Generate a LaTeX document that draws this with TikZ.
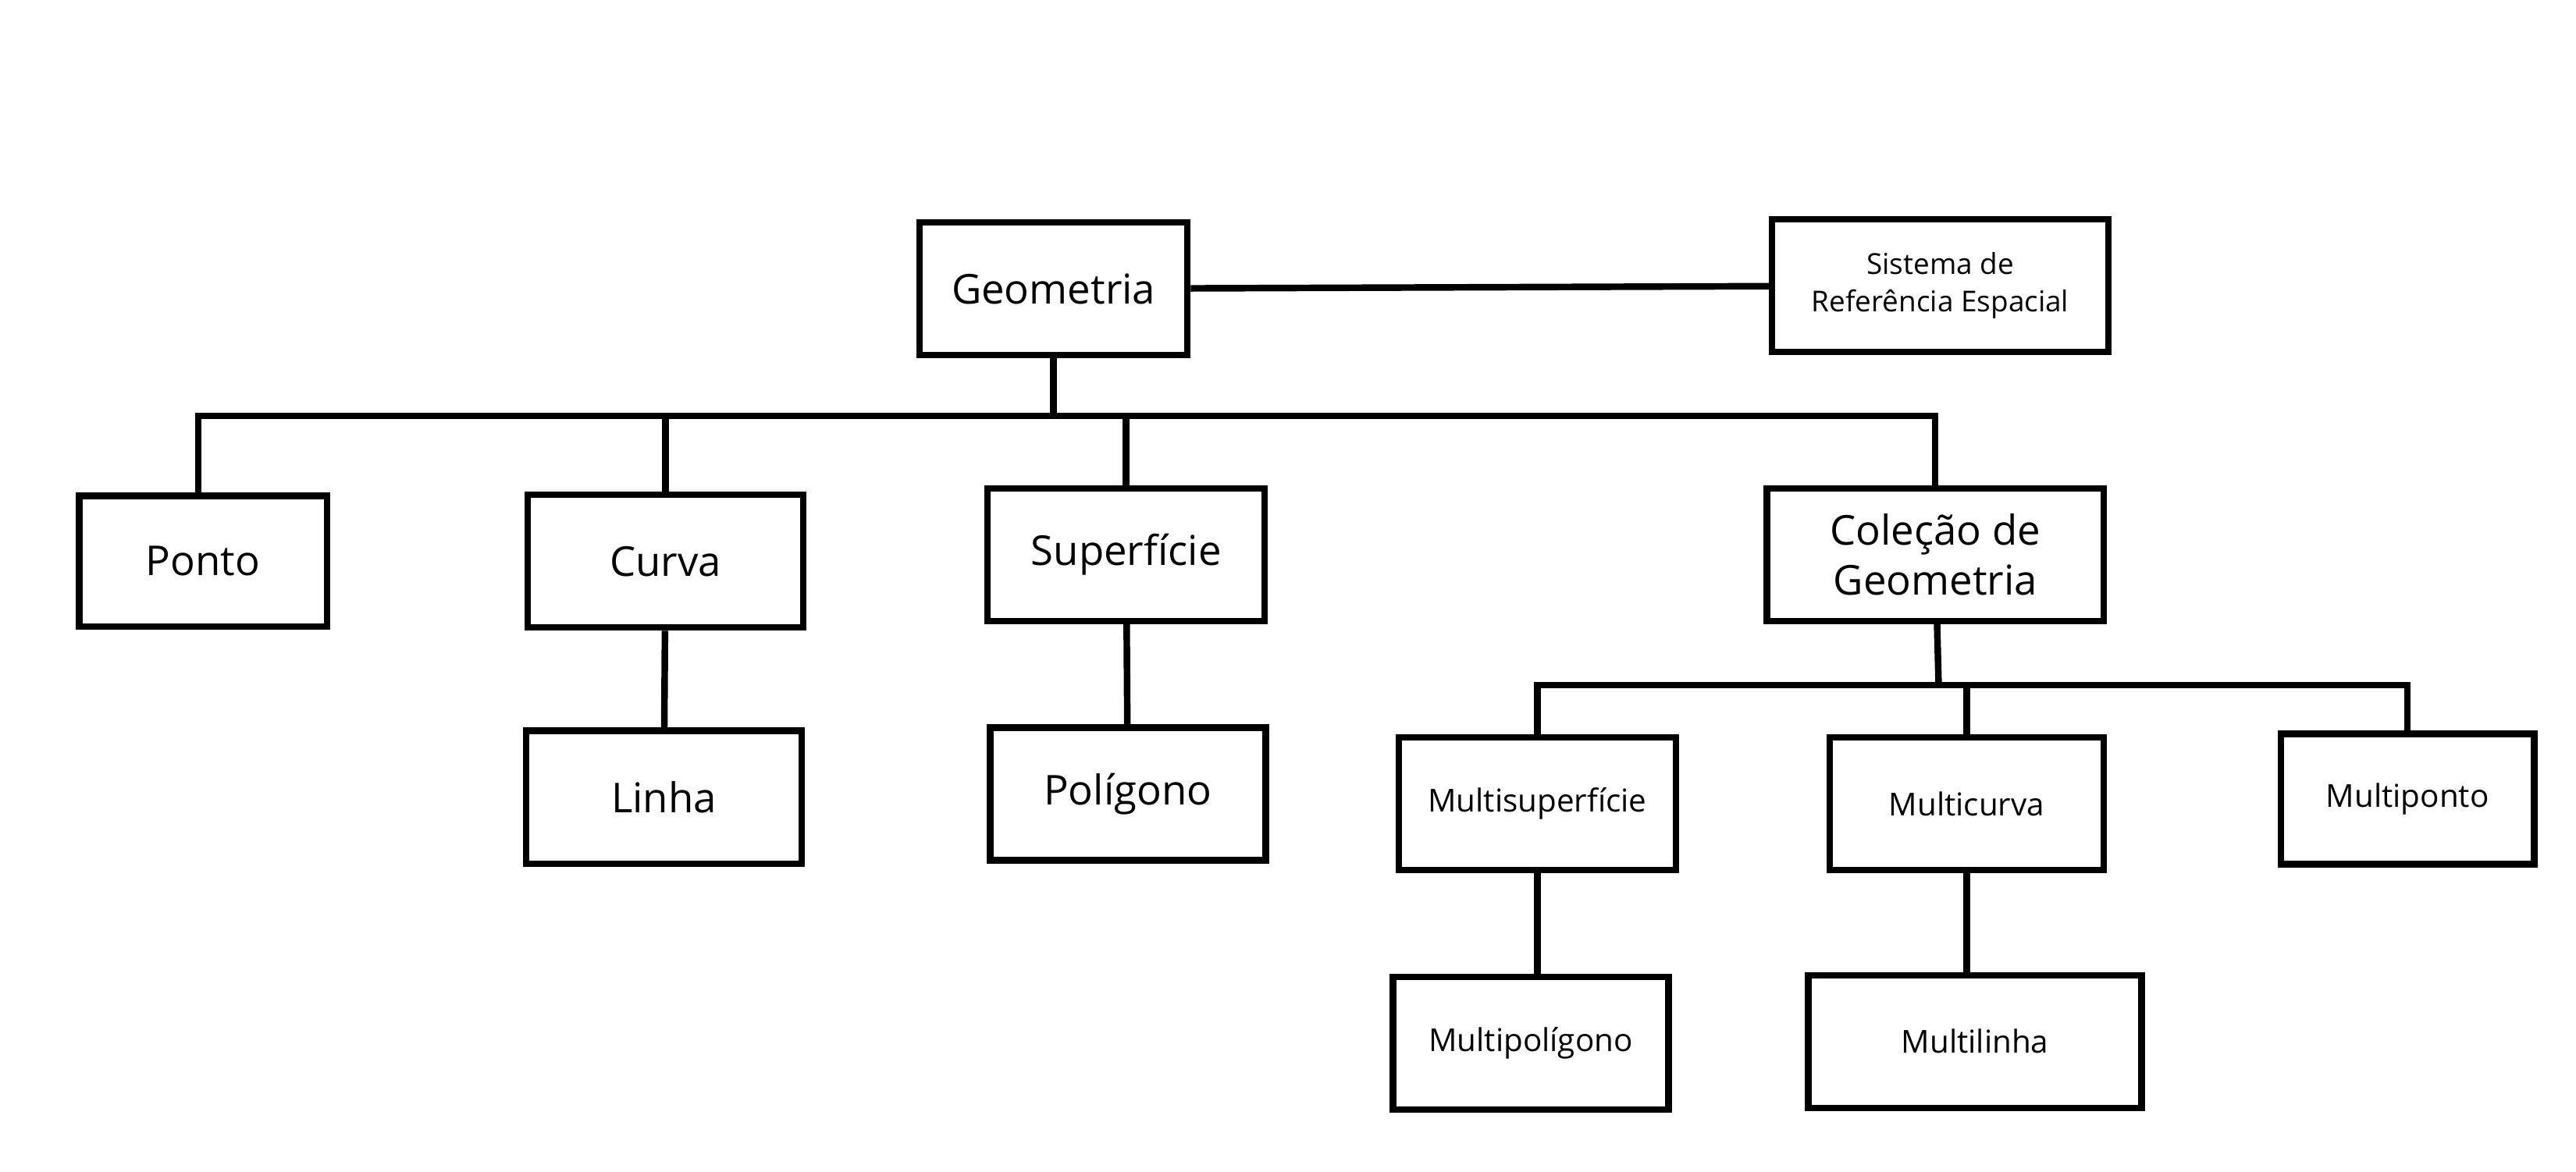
\documentclass[tikz,border=0pt]{standalone}
\usepackage{fontspec}
\setmainfont{Open Sans}
\usepackage{tikz}
\usetikzlibrary{calc}
\tikzstyle{caixa} = [rectangle, draw=black, line width=2.4pt, minimum height=1.7cm, text centered, font=\fontsize{15}{18}\selectfont, align=center]
\tikzstyle{caixap} = [caixa, font=\fontsize{11.5}{14}\selectfont]
\tikzstyle{liga} = [-, line width=2.4pt]

\begin{document}
\begin{tikzpicture}[x=0.02115cm, y=-0.02115cm]
    \useasboundingbox (0,0) rectangle (1560,710);

    %% topo
    \node (geo) [caixa, minimum width=3.43cm] at (638,175) {Geometria};
    \node (srs) [caixa, minimum width=4.31cm, font=\fontsize{10.5}{13.5}\selectfont] at (1175,173) {Sistema de\\Referência Espacial};
    \draw[liga] (geo) -- (srs);

    %% primeiro nivel
    \node (ponto) [caixa, minimum width=3.17cm, minimum height=1.67cm] at (123,340) {Ponto};
    \node (curva) [caixa, minimum width=3.53cm] at (403,340) {Curva};
    \node (sup) [caixa, minimum width=3.55cm] at (682,336) {Superfície};
    \node (col) [caixa, minimum width=4.31cm] at (1172,336) {Coleção de\\Geometria};
    \coordinate (bus) at (638,252);
    \draw[liga] (geo) -- (bus);
    \draw[liga] (ponto.north -| 120,0) |- (bus) -| (col.north);
    \draw[liga] (curva.north) -- (curva.north |- bus);
    \draw[liga] (sup.north) -- (sup.north |- bus);

    %% segundo nivel
    \node (linha) [caixa, minimum width=3.53cm] at (402,483) {Linha};
    \node (pol) [caixa, minimum width=3.53cm] at (683,481) {Polígono};
    \draw[liga] (curva) -- (linha);
    \draw[liga] (sup) -- (pol);

    %% colecoes
    \node (msup) [caixap, minimum width=3.55cm] at (931,487) {Multisuperfície};
    \node (mcur) [caixap, minimum width=3.51cm] at (1191,487) {Multicurva};
    \node (mpto) [caixap, minimum width=3.24cm, minimum height=1.67cm] at (1458,484) {Multiponto};
    \coordinate (bus2) at (1174,415);
    \draw[liga] (col) -- (bus2);
    \draw[liga] (msup.north) |- (bus2) -| (mpto.north);
    \draw[liga] (mcur.north) -- (mcur.north |- bus2);

    %% multi
    \node (mpol) [caixap, minimum width=3.53cm] at (927,632) {Multipolígono};
    \node (mlin) [caixap, minimum width=4.27cm] at (1196,631) {Multilinha};
    \draw[liga] (msup.south) -- (msup.south |- mpol.north);
    \draw[liga] (mcur.south) -- (mcur.south |- mlin.north);
\end{tikzpicture}
\end{document}
